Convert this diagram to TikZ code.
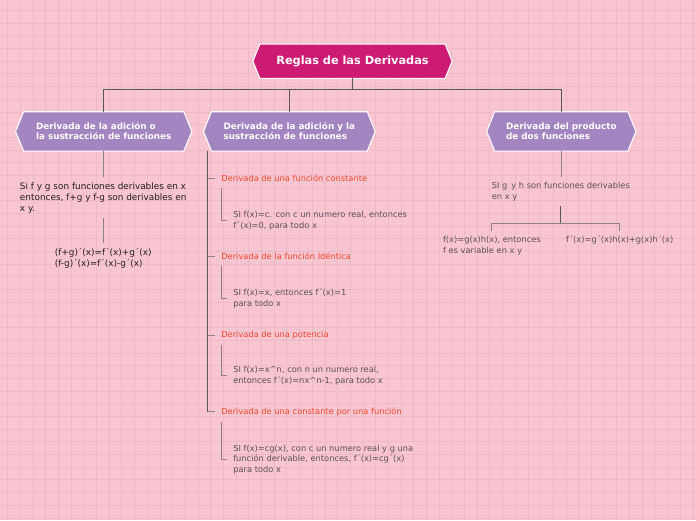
\documentclass[tikz,border=0pt]{standalone}
\usepackage{fontspec}
\setmainfont{DejaVu Sans}
\usetikzlibrary{calc}
\pgfdeclarelayer{bg}\pgfsetlayers{bg,main}
\definecolor{bgpink}{HTML}{F9C5D0}
\definecolor{gridc}{HTML}{F0B8C5}
\definecolor{titlec}{HTML}{CD1B75}
\definecolor{purp}{HTML}{A385C1}
\definecolor{redt}{HTML}{F2482C}
\definecolor{grayt}{HTML}{5B5055}
\definecolor{darkl}{HTML}{5A5557}
\definecolor{subl}{HTML}{8F7F86}
\definecolor{blackt}{HTML}{231F20}
\begin{document}
\begin{tikzpicture}[x=1pt,y=-1pt,
  hexline/.style={draw=white,line width=1.1pt},
  titlebox/.style={font=\fontsize{11.3}{13}\selectfont\bfseries,text=white,minimum width=185,minimum height=34,inner sep=0},
  purpbox/.style={font=\fontsize{8.8}{10}\selectfont\bfseries,text=white,align=left,minimum height=39,inner sep=0},
  mainline/.style={draw=darkl,line width=1.2pt},
  spineline/.style={draw=darkl,line width=1pt},
  subline/.style={draw=subl,line width=1pt},
  blacktxt/.style={font=\fontsize{8.9}{11}\selectfont,text=blackt,align=left,inner xsep=0,inner ysep=5pt},
  graytxt/.style={font=\fontsize{8.3}{10.7}\selectfont,text=grayt,align=left,inner sep=0,anchor=west},
  graytxtc/.style={graytxt,inner ysep=5pt,anchor=north},
  redtxt/.style={font=\fontsize{8.3}{10}\selectfont,text=redt,inner sep=0,anchor=base west}
]
\begin{pgfonlayer}{bg}
\fill[bgpink] (0,0) rectangle (696,520);
\foreach \i in {0,...,54} \draw[gridc,line width=0.6pt] ({7.3+12.7*\i},0) -- ++(0,520);
\foreach \j in {0,...,40} \draw[gridc,line width=0.6pt] (0,{10+12.7*\j}) -- ++(696,0);
\end{pgfonlayer}
\useasboundingbox (0,0) rectangle (696,520);

% main boxes
\node[titlebox] (title) at (352.5,61) {Reglas de las Derivadas};
\begin{pgfonlayer}{bg}\fill[titlec] (title.north west) -- (title.north east) -- ($(title.east)+(7,0)$) -- (title.south east) -- (title.south west) -- ($(title.west)+(-7,0)$) -- cycle;
\draw[hexline] (title.north west) -- (title.north east) -- ($(title.east)+(7,0)$) -- (title.south east) -- (title.south west) -- ($(title.west)+(-7,0)$) -- cycle;\end{pgfonlayer}

\node[purpbox,minimum width=160] (b1) at (103.5,131.2) {Derivada de la adición o\\la sustracción de funciones};
\node[purpbox,minimum width=155.5] (b2) at (289.3,131.2) {Derivada de la adición y la\\sustracción de funciones};
\node[purpbox,minimum width=133] (b3) at (561.5,131.2) {Derivada del producto\\de dos funciones};
\foreach \b in {b1,b2,b3}{
\begin{pgfonlayer}{bg}\fill[purp] (\b.north west) -- (\b.north east) -- ($(\b.east)+(8,0)$) -- (\b.south east) -- (\b.south west) -- ($(\b.west)+(-8,0)$) -- cycle;
\draw[hexline] (\b.north west) -- (\b.north east) -- ($(\b.east)+(8,0)$) -- (\b.south east) -- (\b.south west) -- ($(\b.west)+(-8,0)$) -- cycle;\end{pgfonlayer}}

\draw[mainline] (title.south) -- ++(0,11) -| (b1.north);
\draw[mainline] (title.south) -- ++(0,11) -| (b2.north);
\draw[mainline] (title.south) -- ++(0,11) -| (b3.north);

% branch 1
\node[blacktxt,anchor=north] (a1) at (103,177) {Si f y g son funciones derivables en x\\entonces, f+g y f-g son derivables en\\x y.};
\node[blacktxt,anchor=north] (a2) at (103,243) {(f+g)´(x)=f´(x)+g´(x)\\(f-g)´(x)=f´(x)-g´(x)};
\draw[subline] (b1.south) -- (b1.south |- a1.north);
\draw[subline] (a1.south) -- (a2.north);

% branch 2
\coordinate (sp) at ([xshift=-3.5pt]b2.south west);
\node[redtxt] (l1) at (221,181.3) {Derivada de una función constante};
\node[redtxt] (l2) at (221,259.3) {Derivada de la función Idéntica};
\node[redtxt] (l3) at (221,337.3) {Derivada de una potencia};
\node[redtxt] (l4) at (221,414.3) {Derivada de una constante por una función};
\node[graytxt] (t1) at (233,220.5) {SI f(x)=c. con c un numero real, entonces\\f´(x)=0, para todo x};
\node[graytxt] (t2) at (233,298.5) {SI f(x)=x, entonces f´(x)=1\\para todo x};
\node[graytxt] (t3) at (233,375.5) {SI f(x)=x\textasciicircum n, con n un numero real,\\entonces f´(x)=nx\textasciicircum n-1, para todo x};
\node[graytxt] (t4) at (233,459.5) {SI f(x)=cg(x), con c un numero real y g una\\función derivable, entonces, f´(x)=cg´(x)\\para todo x};
\draw[spineline] (sp) -- (sp |- l4.west);
\foreach \l/\t in {l1/t1,l2/t2,l3/t3,l4/t4}{
  \draw[subline] (sp |- \l.west) -- ([xshift=-6pt]\l.west);
  \draw[subline] ([yshift=-6pt]\l.south west) |- ([xshift=-6pt]\t.west);
}

% branch 3
\node[graytxtc] (c1) at (561,177) {SI g\, y h son funciones derivables\\en x y};
\node[graytxtc] (c2) at (492,231) {f(x)=g(x)h(x), entonces\\f es variable en x y};
\node[graytxtc] (c3) at (620,231) {f´(x)=g´(x)h(x)+g(x)h´(x)};
\coordinate (split) at (561,223);
\draw[subline] (b3.south) -- (b3.south |- c1.north);
\draw[spineline] (c1.south) -- (c1.south |- split);
\draw[subline] (c2.north) |- (split) -| (c3.north);
\end{tikzpicture}
\end{document}
